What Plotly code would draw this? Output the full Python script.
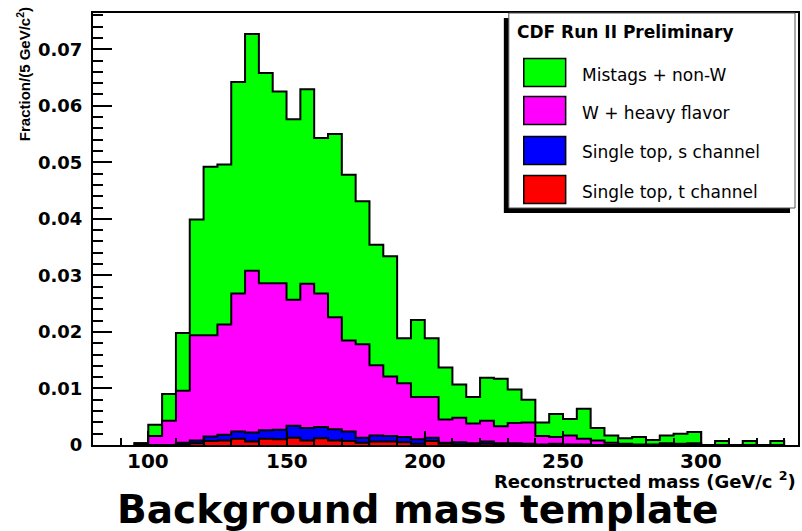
import numpy as np
import plotly.graph_objects as go

# Reconstructed-mass bins (lower edges, GeV/c^2), 5 GeV wide
bin_width = 5
mass_bins = [95, 100, 105, 110, 115, 120, 125, 130, 135, 140, 145, 150, 155, 160,
             165, 170, 175, 180, 185, 190, 195, 200, 205, 210, 215, 220, 225, 230,
             235, 240, 245, 250, 255, 260, 265, 270, 275, 280, 285, 290, 295, 300,
             305, 310, 315, 320, 325]

# Fraction per bin for each background component
single_top_t = [0, 0, 0, .0001, .0003, .0007, .0008, .0011, .0006, .0011, .0010, .0013,
                .0008, .0012, .0008, .0007, .0004, .0006, .0006, .0005, .0002, .0007,
                .0002, .0001, .0001, .0002, .0001, .0001, .0001, 0, 0, 0, 0, 0, 0, 0,
                0, 0, 0, 0, 0, 0, 0, 0, 0, 0, 0]
single_top_s = [0, 0, 0, .0003, .0005, .0008, .0010, .0013, .0016, .0015, .0017, .0021,
                .0022, .0020, .0020, .0017, .0009, .0011, .0010, .0009, .0008, .0006,
                .0002, .0004, .0002, .0004, .0002, .0002, .0001, .0001, .0002, .0001,
                .0001, 0, 0, 0, 0, 0, 0, 0, 0, 0, 0, 0, 0, 0, 0]
w_heavy_flavor = [.0003, .0016, .0043, .0092, .0186, .0179, .0195, .0244, .0286, .0260,
                  .0259, .0223, .0255, .0236, .0198, .0161, .0165, .0124, .0105, .0095,
                  .0075, .0072, .0041, .0043, .0035, .0037, .0030, .0036, .0038, .0015,
                  .0012, .0016, .0010, .0008, .0004, .0002, .0001, .0001, .0003, .0002,
                  .0003, 0, 0, 0, 0, 0, 0]
mistags_non_w = [0, .0020, .0047, .0102, .0205, .0298, .0283, .0374, .0419, .0372, .0339,
                 .0319, .0344, .0275, .0324, .0293, .0253, .0213, .0213, .0080, .0136,
                 .0104, .0092, .0059, .0047, .0076, .0084, .0059, .0040, .0024, .0041,
                 .0029, .0053, .0022, .0013, .0010, .0013, .0008, .0014, .0018, .0020,
                 0, .0007, 0, .0007, 0, .0007]

# Labelled mass values on the horizontal axis
mass_tick_labels = [100, 150, 200, 250, 300]

components = [
    ("Mistags + non-W", mistags_non_w, "#00ff00"),
    ("W + heavy flavor", w_heavy_flavor, "#ff00ff"),
    ("Single top, s channel", single_top_s, "#0000ff"),
    ("Single top, t channel", single_top_t, "#ff0000"),
]

# Stack from the bottom: t channel, s channel, W+HF, mistags
order_bottom_up = components[::-1]
stack = np.zeros(len(mass_bins))
tops = {}
for name, vals, color in order_bottom_up:
    stack = stack + np.array(vals)
    tops[name] = stack.copy()

edges = mass_bins + [mass_bins[-1] + bin_width]

fig = go.Figure()
# Draw the tallest cumulative histogram first, smaller ones on top
for name, vals, color in components:
    top = list(tops[name])
    xs = [edges[0]] + edges[:-1] + [edges[-1], edges[-1]]
    ys = [0] + top + [top[-1], 0]
    fig.add_trace(go.Scatter(
        x=xs, y=ys, mode="lines", line=dict(shape="hv", color="black", width=2),
        fill="tozeroy", fillcolor=color, name=name, showlegend=False,
        hoverinfo="skip"))

# Pixel frame of the plotting area
L, R, T, B = 93, 800, 13, 445
W, H = 802, 531


def px(x):
    return (x - L) / (R - L)


def py(y):
    return (B - y) / (B - T)


bold = "DejaVu Sans"
fig.update_layout(
    width=W, height=H,
    margin=dict(l=L, r=W - R, t=T, b=H - B),
    paper_bgcolor="white", plot_bgcolor="white",
    showlegend=False,
    xaxis=dict(
        range=[80, 335], showgrid=False, zeroline=False,
        showline=True, linecolor="black", linewidth=2, mirror=True,
        ticks="inside", ticklen=14, tickwidth=1.5, tickcolor="black",
        tickmode="array", tickvals=mass_tick_labels, showticklabels=False,
        minor=dict(ticks="inside", ticklen=7, dtick=10, tick0=0,
                   tickcolor="black", tickwidth=1.5),
    ),
    yaxis=dict(
        range=[0, 0.0764], showgrid=False, zeroline=False,
        showline=True, linecolor="black", linewidth=2, mirror=True,
        ticks="inside", ticklen=19, tickwidth=1.5, tickcolor="black",
        tick0=0, dtick=0.01,
        minor=dict(ticks="inside", ticklen=10, dtick=0.002, tick0=0,
                   tickcolor="black", tickwidth=1.5),
        tickfont=dict(family=bold, size=18, color="black", weight="bold"),
        ticklabelstandoff=5,
    ),
)

shapes = []
annotations = []

# Horizontal-axis tick labels, placed just under the axis
for v in mass_tick_labels:
    annotations.append(dict(xref="x", yref="paper", x=v, y=py(461),
                            xanchor="center", yanchor="middle", showarrow=False,
                            text=f"<b>{v}</b>",
                            font=dict(family=bold, size=20, color="black")))

# Legend box with drop shadow
shapes.append(dict(type="rect", xref="paper", yref="paper", layer="above",
                   x0=px(505), x1=px(792), y0=py(213), y1=py(18),
                   fillcolor="black", line=dict(width=0)))
shapes.append(dict(type="rect", xref="paper", yref="paper", layer="above",
                   x0=px(510), x1=px(797), y0=py(208), y1=py(13),
                   fillcolor="white", line=dict(color="#555", width=1)))
annotations.append(dict(xref="paper", yref="paper", x=px(516), y=py(32),
                        xanchor="left", yanchor="middle", showarrow=False,
                        text="<b>CDF Run II Preliminary</b>",
                        font=dict(family=bold, size=17, color="black")))
swatch_centers = [72.5, 110.5, 150.5, 189.5]
for (name, vals, color), cy in zip(components, swatch_centers):
    shapes.append(dict(type="rect", xref="paper", yref="paper", layer="above",
                       x0=px(525), x1=px(567), y0=py(cy + 14), y1=py(cy - 14),
                       fillcolor=color, line=dict(color="black", width=1.5)))
    annotations.append(dict(xref="paper", yref="paper", x=px(581), y=py(cy + 2),
                            xanchor="left", yanchor="middle", showarrow=False,
                            text=name,
                            font=dict(family="DejaVu Sans", size=17, color="black")))

# Axis titles
annotations.append(dict(xref="paper", yref="paper", x=px(800), y=py(480),
                        xanchor="right", yanchor="middle", showarrow=False,
                        text="<b>Reconstructed mass (GeV/c <sup>2</sup>)</b>",
                        font=dict(family=bold, size=18, color="black")))
annotations.append(dict(xref="paper", yref="paper", x=px(24), y=py(5),
                        xanchor="center", yanchor="top", showarrow=False,
                        textangle=-90,
                        text="<b>Fraction/(5 GeV/c<sup>2</sup>)</b>",
                        font=dict(family="Liberation Sans", size=15, color="black")))

# Figure title below the axis
annotations.append(dict(xref="paper", yref="paper", x=px(418), y=py(509),
                        xanchor="center", yanchor="middle", showarrow=False,
                        text="<b>Background mass template</b>",
                        font=dict(family=bold, size=39, color="black")))

fig.update_layout(shapes=shapes, annotations=annotations)
fig.write_html("out.html")
